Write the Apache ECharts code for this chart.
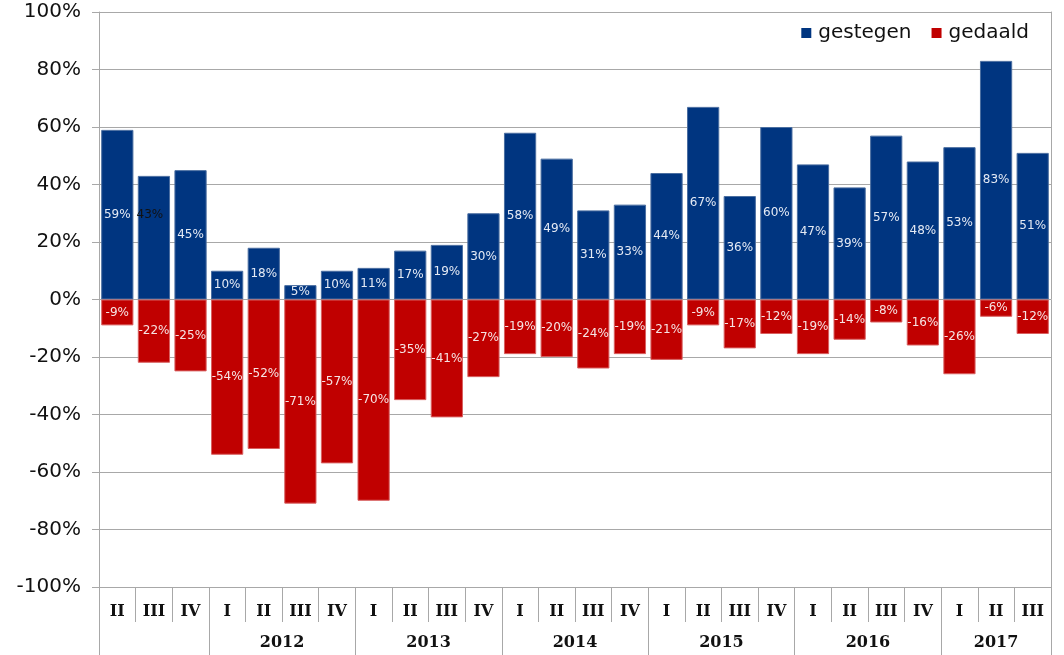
<!DOCTYPE html>
<html>
<head>
<meta charset="utf-8">
<script src="https://cdn.jsdelivr.net/npm/echarts@6/dist/echarts.min.js"></script>
<style>
  html, body { margin: 0; padding: 0; background: #fff; }
  #chart { width: 1064px; height: 655px; }
</style>
</head>
<body>
<div id="chart"></div>
<script>
// kwartalen en jaren
const quarters = ["II","III","IV","I","II","III","IV","I","II","III","IV","I","II","III","IV",
  "I","II","III","IV","I","II","III","IV","I","II","III"];
const years = ["2011","2011","2011","2012","2012","2012","2012","2013","2013","2013","2013",
  "2014","2014","2014","2014","2015","2015","2015","2015","2016","2016","2016","2016","2017","2017","2017"];
const shownYears = ["2012","2013","2014","2015","2016","2017"];

const gestegen = [59,43,45,10,18,5,10,11,17,19,30,58,49,31,33,44,67,36,60,47,39,57,48,53,83,51];
const gedaald = [-9,-22,-25,-54,-52,-71,-57,-70,-35,-41,-27,-19,-20,-24,-19,-21,-9,-17,-12,-19,-14,-8,-16,-26,-6,-12];

// grenzen en midden van elk jaar
const yearBounds = [0];
const yearMid = {};
let start = 0;
for (let i = 1; i <= years.length; i++) {
  if (i === years.length || years[i] !== years[i - 1]) {
    yearBounds.push(i);
    yearMid[(start + i) / 2] = years[start];
    start = i;
  }
}
const yearLabelVals = Object.keys(yearMid).map(Number).filter(v => shownYears.includes(yearMid[v]));

const chart = echarts.init(document.getElementById("chart"));
const font = "DejaVu Sans";
const gridColor = "#a8a8a8";

chart.setOption({
  animation: false,
  legend: {
    right: 30, top: 18,
    itemWidth: 10, itemHeight: 10, itemGap: 20,
    icon: "rect",
    itemStyle: { borderWidth: 0 },
    textStyle: { fontFamily: font, fontSize: 20, color: "#111", padding: [0, 0, 0, 2] },
    data: ["gestegen", "gedaald"]
  },
  grid: { left: 99, right: 13, top: 12, bottom: 68 },
  xAxis: [{
    type: "category",
    data: quarters,
    position: "bottom",
    axisLine: { show: true, onZero: false, lineStyle: { color: gridColor } },
    axisTick: { show: true, interval: 0, length: 35, lineStyle: { color: gridColor } },
    axisLabel: { interval: 0, margin: 17, fontFamily: "DejaVu Serif", fontWeight: "bold", fontSize: 16, color: "#111" }
  }, {
    type: "value",
    min: 0, max: years.length,
    position: "bottom",
    axisLine: { show: false, onZero: false },
    splitLine: { show: false },
    axisTick: { show: true, customValues: yearBounds, length: 68, lineStyle: { color: gridColor } },
    axisLabel: {
      customValues: yearLabelVals, margin: 48,
      fontFamily: "DejaVu Serif", fontWeight: "bold", fontSize: 16, color: "#111",
      formatter: v => yearMid[v] || ""
    }
  }],
  yAxis: [{
    type: "value",
    min: -100, max: 100, interval: 20,
    axisLine: { show: true, lineStyle: { color: gridColor } },
    axisTick: { show: true, length: 7, lineStyle: { color: gridColor } },
    splitLine: { show: true, lineStyle: { color: gridColor } },
    axisLabel: {
      margin: 18, fontFamily: font, fontSize: 20, color: "#111",
      formatter: v => v + "%"
    }
  }, {
    type: "value",
    min: -100, max: 100, interval: 20,
    position: "right",
    axisLine: { show: true, lineStyle: { color: gridColor } },
    axisTick: { show: false },
    splitLine: { show: false },
    axisLabel: { show: false }
  }],
  series: [{
    name: "gestegen",
    type: "bar",
    stack: "totaal",
    barWidth: "88%",
    itemStyle: { color: "#003580", borderColor: "#4a6ea0", borderWidth: 1 },
    label: { show: true, position: "inside", fontFamily: font, fontSize: 12, color: "#e4eaf4", formatter: "{c}%" },
    data: gestegen.map((v, i) => i === 1
      ? { value: v, label: { color: "#111", offset: [-4, -23] } }
      : v)
  }, {
    name: "gedaald",
    type: "bar",
    stack: "totaal",
    barWidth: "88%",
    itemStyle: { color: "#c00000", borderColor: "#d86060", borderWidth: 1 },
    label: { show: true, position: "inside", fontFamily: font, fontSize: 12, color: "#f6e4e4", formatter: "{c}%" },
    data: gedaald
  }]
});

window.addEventListener("resize", () => chart.resize());
</script>
</body>
</html>
